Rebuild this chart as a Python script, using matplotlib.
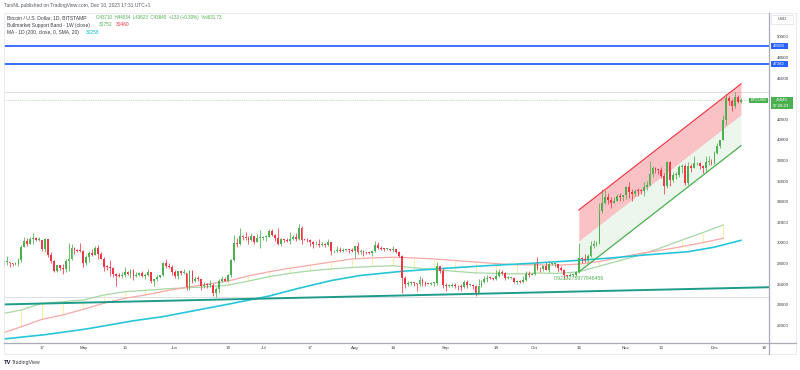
import datetime as dt
import numpy as np
import matplotlib
matplotlib.use("Agg")
import matplotlib.pyplot as plt
import matplotlib.dates as mdates
from matplotlib.patches import Rectangle
from matplotlib.lines import Line2D
from matplotlib.transforms import blended_transform_factory

plt.rcParams['font.family'] = ['Liberation Sans', 'DejaVu Sans']

# ---------------- data ----------------
start_date = dt.date(2023, 4, 4)
first_open = 27800

closes = [
    # Apr 4 - Apr 30
    28170, 28170, 28040, 27920, 27950, 28330, 29650, 30230, 29890, 30390,
    30480, 30310, 30310, 29440, 30390, 28820, 28250, 27270, 27820, 27590,
    27520, 28300, 28420, 29470, 29340, 29250, 29230,
    # May
    28070, 28680, 29030, 28850, 29530, 28900, 28430, 27670, 27630, 27620,
    26990, 26800, 26780, 26930, 27170, 27030, 27400, 26830, 26890, 27100,
    26750, 26850, 27230, 26330, 26470, 26720, 26870, 28080, 27740, 27700, 27210,
    # Jun
    26820, 27250, 27070, 27120, 25750, 27240, 26340, 26500, 26480, 25850,
    25940, 25900, 25920, 25120, 25580, 26340, 26510, 26340, 26850, 28310,
    30000, 29890, 30690, 30550, 30470, 30270, 30690, 30080, 30450, 30470,
    # Jul
    30590, 30620, 31160, 30770, 30510, 29900, 30350, 30290, 30170, 30410,
    30620, 30390, 31470, 30320, 30300, 30250, 30140, 29860, 29910, 29800,
    29910, 29790, 30080, 29180, 29230, 29350, 29210, 29310, 29350, 29280, 29230,
    # Aug
    29700, 29170, 29180, 29080, 29050, 29040, 29180, 29770, 29560, 29430,
    29400, 29420, 29280, 29400, 29170, 28700, 26620, 26050, 26100, 26190,
    26120, 26040, 26430, 26160, 26050, 26010, 26090, 26100, 27720, 27300, 25940,
    # Sep
    25800, 25870, 25970, 25810, 25780, 25760, 26240, 25900, 25900, 25840,
    25160, 25840, 26230, 26530, 26600, 26570, 26530, 26760, 27220, 27130,
    26570, 26580, 26580, 26250, 26300, 26220, 26370, 27020, 26910, 26970,
    # Oct
    28000, 27500, 27430, 27790, 27410, 27930, 27950, 27970, 27600, 27390,
    26870, 26750, 26860, 26860, 27150, 28520, 28410, 28330, 28720, 29680,
    29910, 30000, 33070, 33920, 34500, 34150, 33900, 34090, 34540, 34500, 34650,
    # Nov
    35430, 34940, 34730, 35080, 35050, 35040, 35420, 35630, 36700, 37310,
    37130, 37060, 36490, 35550, 37880, 36160, 36590, 36590, 37380, 37470,
    35800, 37430, 37290, 37720, 37790, 37450, 37240, 37830, 37860, 37720,
    # Dec 1 - Dec 10
    38690, 39460, 39980, 41980, 44080, 43780, 43290, 44180, 43710, 43845,
]

highs = [
    28450, 28760, 28190, 28100, 28160, 28530, 29770, 30560, 30480, 30600,
    31000, 30600, 30550, 30330, 30480, 30410, 29100, 28370, 27880, 27830,
    28000, 28400, 30020, 29880, 29600, 29450, 29960,
    29330, 28880, 29270, 29380, 29700, 29830, 29100, 28650, 27830, 28340,
    27640, 27090, 27040, 27200, 27660, 27270, 27480, 27480, 27180, 27150,
    27280, 27050, 27480, 27220, 26550, 26930, 26900, 28200, 28450, 28050, 27830,
    27350, 27300, 27320, 27440, 27130, 27350, 27380, 26800, 26790, 26530,
    26210, 26090, 26440, 26090, 25740, 26470, 26780, 26690, 26950, 28400,
    30800, 30500, 31420, 30800, 31050, 30660, 31000, 30700, 30830, 31280,
    30660, 30800, 31380, 31330, 30880, 31500, 30450, 30380, 30440, 31040,
    30800, 30970, 31820, 31650, 30400, 30450, 30340, 30240, 30200, 30410,
    30050, 29990, 30350, 30100, 29350, 29700, 29570, 29520, 29400, 29450, 29520,
    29740, 30050, 29410, 29310, 29110, 29170, 29240, 30180, 30130, 29720,
    29540, 29470, 29450, 29680, 29440, 29230, 28790, 26820, 26290, 26290,
    26260, 26140, 26800, 26560, 26300, 26120, 26170, 26240, 28150, 27760, 27560,
    26150, 25980, 26130, 26080, 25880, 26050, 26440, 26420, 25940, 26010,
    25900, 26550, 26390, 26840, 26880, 26770, 26620, 27420, 27490, 27380,
    27160, 26750, 26640, 26730, 26420, 26390, 26840, 27300, 27240, 27080,
    28050, 28600, 27660, 27830, 28120, 28300, 28050, 28090, 28000, 27750,
    27480, 26840, 27100, 26990, 27270, 30000, 28600, 28980, 28900, 30200,
    30330, 30200, 33900, 35250, 35120, 34820, 34480, 34430, 34740, 34830, 34700,
    35550, 35960, 35250, 35260, 35380, 35270, 35880, 35980, 37950, 37500,
    37420, 37230, 37400, 36770, 37980, 37940, 36850, 36860, 37530, 37700,
    37680, 37880, 37670, 38440, 37890, 37840, 37590, 38400, 38420, 38150,
    38980, 39700, 40000, 42420, 44450, 44300, 44000, 44700, 44370, 44034,
]

lows = [
    27660, 27820, 27700, 27770, 27870, 27800, 28170, 29610, 29690, 29870,
    29950, 30240, 30150, 29270, 29130, 28650, 28020, 27150, 27140, 27380,
    26960, 27210, 27250, 28380, 28890, 29090, 29080,
    27680, 27890, 28130, 28700, 28820, 28410, 28400, 27300, 27360, 26770,
    26700, 25810, 26700, 26610, 26730, 26860, 26620, 26410, 26660, 26830,
    26680, 26550, 26830, 26090, 25870, 26340, 26570, 26830, 27600, 27560, 26860,
    26600, 26520, 26930, 26960, 25400, 25390, 26130, 26210, 26320, 25400,
    25640, 25610, 25730, 24830, 24800, 25190, 26180, 26290, 26270, 26660,
    28290, 29580, 29830, 30280, 30270, 29920, 30240, 29870, 30050, 29500,
    30320, 30180, 30580, 30640, 30220, 29850, 29720, 30050, 30080, 29950,
    30280, 30220, 30260, 29940, 30260, 30080, 29680, 29520, 29760, 29570,
    29730, 29630, 29740, 28860, 29050, 29100, 29080, 29130, 29250, 29000, 29120,
    28580, 28940, 28950, 28760, 28950, 28960, 28700, 29120, 29380, 29330,
    29260, 29360, 29260, 29100, 29070, 28650, 25170, 25630, 25800, 25970,
    25810, 25350, 25800, 25860, 25780, 25980, 25960, 25860, 25920, 27060, 25660,
    25340, 25730, 25770, 25600, 25400, 25350, 25610, 25640, 25800, 25580,
    24900, 25140, 25770, 26130, 26230, 26480, 26420, 26400, 26680, 26850,
    26380, 26500, 26510, 26130, 25990, 26090, 26100, 26340, 26700, 26880,
    26940, 27330, 27170, 27250, 27350, 27200, 27840, 27710, 27300, 27290,
    26550, 26570, 26800, 26800, 26830, 27120, 28100, 28140, 28200, 28630,
    29480, 29680, 29900, 32900, 33740, 33770, 33420, 33880, 34050, 34080, 34100,
    34290, 34350, 34110, 34580, 34570, 34740, 34540, 35120, 35570, 36360,
    36780, 36720, 36300, 34800, 35350, 35560, 35900, 36180, 36360, 36800,
    35650, 35650, 36880, 37250, 37600, 37170, 36750, 36870, 37530, 37530,
    37630, 38660, 39200, 39980, 41420, 43350, 42800, 43080, 43600, 43623,
]

# Bull Market Support Band (weekly, plotted at week starts)
bmsb_start = dt.date(2023, 4, 3)
bmsb_sma = [21200, 21870, 22590, 23010,
            23560, 24150, 24630, 24950, 25350,
            25700, 26000, 26300, 26800,
            27210, 27550, 27850, 28150, 28450,
            28550, 28620, 28550, 28450,
            28300, 28150, 28000, 27880,
            27880, 27850, 27950, 28200, 28600,
            29000, 29300, 29650, 30030,
            30460]
bmsb_ema = [23100, 23500, 24150, 24300,
            24470, 24950, 25270, 25400, 25550,
            25650, 25750, 25900, 26300,
            26730, 27050, 27300, 27480, 27620,
            27720, 27800, 27600, 27420,
            27250, 27100, 27050, 27000,
            27080, 27050, 27200, 27750, 28300,
            28850, 29550, 30290, 31000,
            31752]

# MA 200 (daily SMA), read at sample dates
ma_dates = ["2023-04-04", "2023-04-18", "2023-05-02", "2023-05-18", "2023-05-28",
            "2023-06-08", "2023-06-19", "2023-07-03", "2023-07-13", "2023-07-24",
            "2023-08-03", "2023-08-17", "2023-09-01", "2023-09-15", "2023-09-30",
            "2023-10-15", "2023-10-27", "2023-11-08", "2023-11-22", "2023-12-01",
            "2023-12-10"]
ma_vals = [20680, 21100, 21650, 22450, 22850,
           23450, 24050, 24850, 25600, 26350,
           26850, 27250, 27550, 27800, 28030,
           28300, 28550, 28850, 29150, 29600,
           30258]

# drawings
hlines_blue = [49108, 47382]
hlines_gray = [44700, 24750]
last_price = 43845
trend_dates = ["2023-04-03", "2023-12-20"]
trend_vals = [24030, 25710]
chan_dates = ["2023-10-16", "2023-12-10"]
chan_upper = [33200, 45440]
chan_mid = [30190, 42440]
chan_lower = [27190, 39450]
pearson_r = "0.9233275977846456"

yticks = [22000, 24000, 26000, 28000, 30000, 32000, 34000, 36000, 38000,
          40000, 42000, 46000, 48000, 50000]
xtick_dates = ["2023-04-17", "2023-05-01", "2023-05-15", "2023-06-01", "2023-06-19",
               "2023-07-01", "2023-07-17", "2023-08-01", "2023-08-14", "2023-09-01",
               "2023-09-18", "2023-10-01", "2023-10-16", "2023-11-01", "2023-11-13",
               "2023-12-01", "2023-12-18"]
xtick_labels = ["17", "May", "15", "Jun", "19", "Jul", "17", "Aug", "14", "Sep",
                "18", "Oct", "16", "Nov", "13", "Dec", "18"]

# ---------------- figure ----------------
W, H = 800, 370
fig = plt.figure(figsize=(8, 3.7), dpi=100)
fig.patch.set_facecolor('white')


def fx(x):
    return x / W


def fy(y):
    return 1 - y / H


ax = fig.add_axes([fx(4), fy(342), fx(769) - fx(4), fy(13) - fy(342)])
ax.set_facecolor('white')
for s in ax.spines.values():
    s.set_visible(False)

d2n = lambda s: mdates.date2num(dt.date.fromisoformat(s))

UP = '#4caf50'
DN = '#f23645'

n = len(closes)
xd = mdates.date2num([start_date + dt.timedelta(days=i) for i in range(n)])
c = np.array(closes, float)
o = np.array([first_open] + closes[:-1], float)
hi = np.maximum(np.array(highs, float), np.maximum(o, c))
lo = np.minimum(np.array(lows, float), np.minimum(o, c))
cols = np.where(c >= o, UP, DN)

# horizontal drawings
for v in hlines_gray:
    ax.axhline(v, color='#dcdee4', lw=0.7, zorder=1)
for v in hlines_blue:
    ax.axhline(v, color='#2962ff', lw=1.3, zorder=5)
ax.axhline(last_price, color=UP, lw=0.5, ls=(0, (1, 1.5)), alpha=0.7, zorder=1)

# trend line
ax.plot([d2n(s) for s in trend_dates], trend_vals, color='#1e9c8a', lw=1.4, zorder=4)

# BMSB
wk = mdates.date2num([bmsb_start + dt.timedelta(weeks=i) for i in range(len(bmsb_sma))])
ax.vlines(wk, bmsb_sma, bmsb_ema, color='#fbf1a6', lw=0.8, zorder=2)
ax.plot(wk, bmsb_ema, color='#a8d8a6', lw=0.9, zorder=2)
ax.plot(wk, bmsb_sma, color='#f6a9a6', lw=0.9, zorder=2)

# MA 200
ax.plot([d2n(s) for s in ma_dates], ma_vals, color='#26c6da', lw=1.2, zorder=3)

# regression channel
cx = [d2n(s) for s in chan_dates]
ax.fill_between(cx, chan_mid, chan_upper, color=DN, alpha=0.3, lw=0, zorder=1.5)
ax.fill_between(cx, chan_lower, chan_mid, color=UP, alpha=0.1, lw=0, zorder=1.5)
ax.plot(cx, chan_upper, color=DN, lw=0.9, zorder=4)
ax.plot(cx, chan_lower, color=UP, lw=0.9, zorder=4)
ax.annotate(pearson_r, xy=(cx[0], chan_lower[0]), xytext=(0, -2.6),
            textcoords='offset points', ha='center', va='top',
            fontsize=3.7, color=UP, zorder=6)

# candles
ax.vlines(xd, lo, hi, colors=cols, lw=0.55, zorder=3)
body_h = np.maximum(np.abs(c - o), 90)
ax.bar(xd, body_h, bottom=np.minimum(o, c), width=0.62, color=cols, lw=0, zorder=3.5)

# limits
x_ref = d2n("2023-04-17")
ax.set_xlim(x_ref - 12.89, x_ref + 246.5)
ax.set_ylim(20388, 52330)

# y axis (right)
ax.yaxis.tick_right()
ax.set_yticks(yticks)
ax.set_yticklabels([str(v) for v in yticks])
ax.tick_params(axis='y', length=0, pad=5.5, labelsize=3.2, labelcolor='#3a3d45')
ax.set_xticks([d2n(s) for s in xtick_dates])
ax.set_xticklabels(xtick_labels)
ax.tick_params(axis='x', length=0, pad=3.2, labelsize=3.2, labelcolor='#3a3d45')

# frame lines
def fline(x0, y0, x1, y1, color, lw):
    fig.add_artist(Line2D([fx(x0), fx(x1)], [fy(y0), fy(y1)], transform=fig.transFigure,
                          color=color, lw=lw))

fline(4, 13, 796, 13, '#e6e8ee', 0.6)
fline(4, 13, 4, 354, '#e6e8ee', 0.6)
fline(796, 13, 796, 354, '#e6e8ee', 0.6)
fline(4, 354, 796, 354, '#e6e8ee', 0.6)
fline(769, 13, 769, 354, '#a9acb5', 0.9)
fline(4, 342.5, 796, 342.5, '#a9acb5', 0.9)

# axis label boxes tied to price values
bt = blended_transform_factory(fig.transFigure, ax.transData)


def price_box(v, face, text, x0=770.5, x1=787.5, half=300):
    fig.add_artist(Rectangle((fx(x0), v - half), fx(x1) - fx(x0), 2 * half, transform=bt,
                             facecolor=face, edgecolor='none', zorder=10))
    fig.text(fx((x0 + x1) / 2), v, text, transform=bt, ha='center', va='center',
             fontsize=3.1, color='white', zorder=11)


for v in hlines_blue:
    price_box(v, '#2962ff', str(v))

# last price box (two lines)
fig.add_artist(Rectangle((fx(770.5), last_price - 860), fx(793) - fx(770.5), 1220,
                         transform=bt, facecolor=UP, edgecolor='none', zorder=10))
fig.text(fx(781.5), last_price + 20, str(last_price), transform=bt, ha='center',
         va='center', fontsize=3.1, color='white', zorder=11)
fig.text(fx(781.5), last_price - 560, "07:28:23", transform=bt, ha='center',
         va='center', fontsize=3.1, color='white', zorder=11)
# symbol tag
fig.add_artist(Rectangle((fx(749), last_price - 270), fx(768) - fx(749), 540,
                         transform=bt, facecolor=UP, edgecolor='none', zorder=10))
fig.text(fx(758.5), last_price, "BTCUSD", transform=bt, ha='center', va='center',
         fontsize=2.9, color='white', zorder=11)

# USD box
fig.add_artist(Rectangle((fx(771), fy(24)), fx(793) - fx(771), fy(15) - fy(24),
                         transform=fig.transFigure, facecolor='white',
                         edgecolor='#d6d8de', lw=0.4))
fig.text(fx(782), fy(19.5), "USD", ha='center', va='center', fontsize=3.1, color='#3a3d45')

# header & legend
GRAY = '#3a3d45'
fig.text(fx(4), fy(5.7), "TarsNL published on TradingView.com, Dec 10, 2023 17:31 UTC+1",
         ha='left', va='center', fontsize=3.5, color='#555a64')

leg1 = [(7.3, "Bitcoin / U.S. Dollar, 1D, BITSTAMP", GRAY, 3.6),
        (96.0, "O43710  H44034  L43623  C43845  +133 (+0.30%)  Vol631.73", UP, 3.25)]
for x, t, col, fs in leg1:
    fig.text(fx(x), fy(17.5), t, ha='left', va='center', fontsize=fs, color=col)

leg2 = [(7.3, "Bullmarket Support Band - 1W (close)", GRAY),
        (99.3, "31752", UP), (116.3, "30460", DN)]
for x, t, col in leg2:
    fig.text(fx(x), fy(25), t, ha='left', va='center', fontsize=3.5, color=col)

leg3 = [(7.3, "MA - 1D (200, close, 0, SMA, 20)", GRAY), (86.0, "30258", '#00bcd4')]
for x, t, col in leg3:
    fig.text(fx(x), fy(32.3), t, ha='left', va='center', fontsize=3.5, color=col)

# TradingView footer
fig.text(fx(4), fy(362.5), "TV", ha='left', va='center', fontsize=4.2,
         fontweight='bold', color='#131722')
fig.text(fx(11.5), fy(362.5), "TradingView", ha='left', va='center', fontsize=3.7,
         color='#3a3d45')

fig.savefig("out.png", dpi=100, facecolor='white')
